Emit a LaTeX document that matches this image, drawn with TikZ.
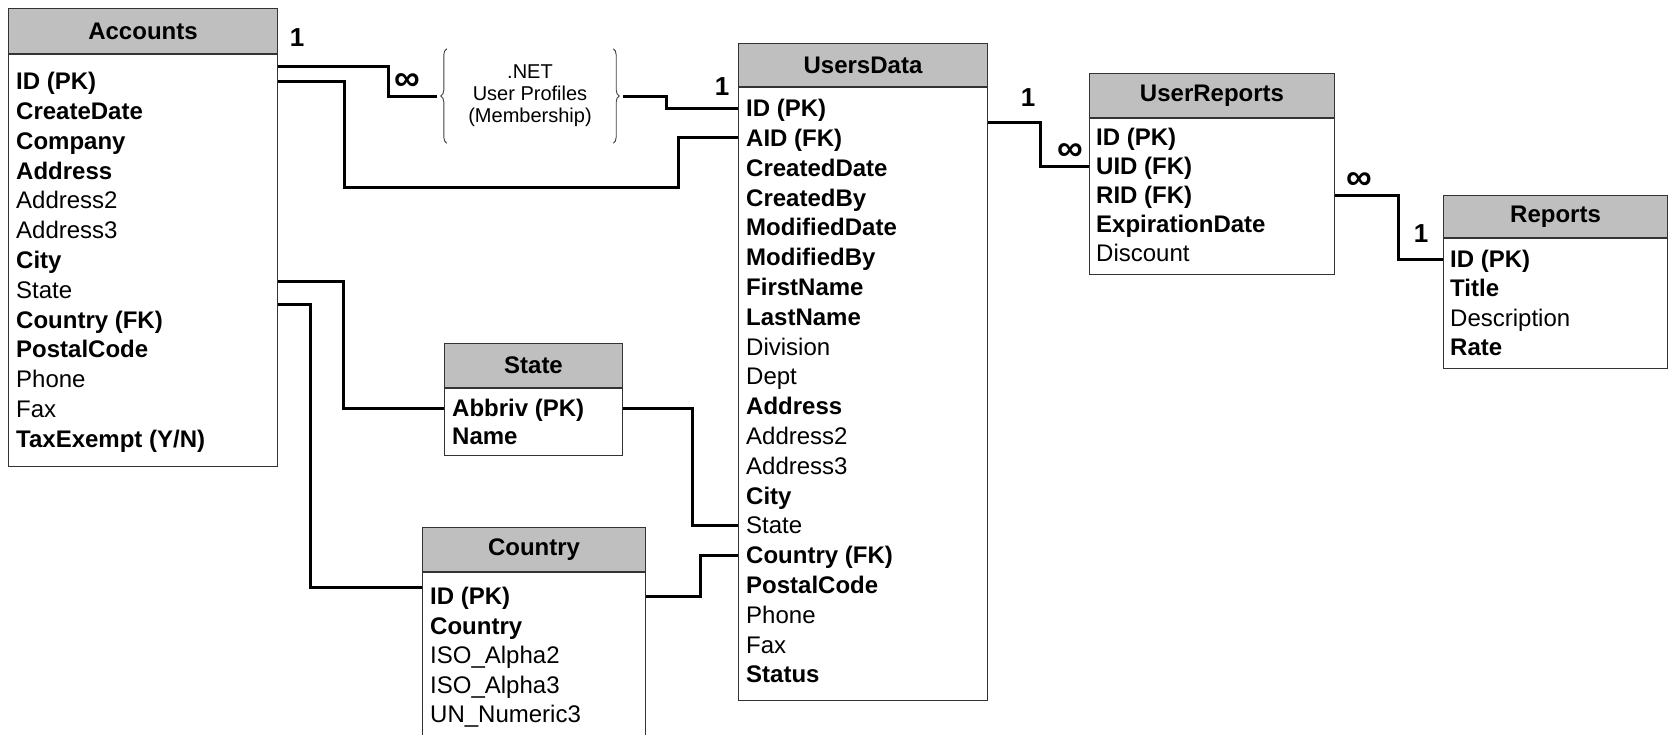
\documentclass[tikz,border=0pt]{standalone}
\usepackage{fontspec}
\setmainfont{Liberation Sans}
\usetikzlibrary{positioning,calc,decorations.pathreplacing}

\begin{document}
\begin{tikzpicture}[
    x=1pt, y=-1pt,
    tblhead/.style={rectangle, draw=black!80, line width=1pt, fill=black!25, anchor=north west, inner sep=0pt, font=\fontsize{24}{28}\selectfont\bfseries},
    tblbody/.style={rectangle, draw=black!80, line width=1pt, fill=white, inner sep=0pt},
    field/.style={anchor=west, inner sep=0pt, text height=23.2pt, text depth=6pt, font=\fontsize{24}{28}\selectfont\bfseries},
    card/.style={inner sep=0pt, font=\fontsize{26}{28}\selectfont\bfseries},
    many/.style={inner sep=0pt, font=\fontsize{36}{36}\selectfont\bfseries},
    link/.style={line width=3pt},
    brace/.style={decorate, decoration={brace, amplitude=6pt}, line width=0.9pt, black!75}
]
    \useasboundingbox (0,0) rectangle (1670,734);

    \node[tblhead, minimum width=269, minimum height=45] (acc-h) at (8,8) {Accounts};
    \node[tblbody, minimum width=269, minimum height=412, below=0pt of acc-h] (acc) {};
    \foreach \f [count=\i] in {ID (PK), CreateDate, Company, Address, {\mdseries Address2}, {\mdseries Address3}, City, {\mdseries State}, Country (FK), PostalCode, {\mdseries Phone}, {\mdseries Fax}, {TaxExempt (Y/N)}}
        \node[field] (acc-\i) at (16, {81+(\i-1)*29.8}) {\f};

    \node[tblhead, minimum width=249, minimum height=43] (ud-h) at (738,43) {UsersData};
    \node[tblbody, minimum width=249, minimum height=613, below=0pt of ud-h] (ud) {};
    \foreach \f [count=\i] in {ID (PK), AID (FK), CreatedDate, CreatedBy, ModifiedDate, ModifiedBy, FirstName, LastName, {\mdseries Division}, {\mdseries Dept}, Address, {\mdseries Address2}, {\mdseries Address3}, City, {\mdseries State}, Country (FK), PostalCode, {\mdseries Phone}, {\mdseries Fax}, Status}
        \node[field] (ud-\i) at (746, {108+(\i-1)*29.8}) {\f};

    \node[tblhead, minimum width=245, minimum height=44] (ur-h) at (1089,73) {UserReports};
    \node[tblbody, minimum width=245, minimum height=156, below=0pt of ur-h] (ur) {};
    \foreach \f [count=\i] in {ID (PK), UID (FK), RID (FK), ExpirationDate, {\mdseries Discount}}
        \node[field] (ur-\i) at (1096, {137+(\i-1)*29}) {\f};

    \node[tblhead, minimum width=224, minimum height=42] (rep-h) at (1443,195) {Reports};
    \node[tblbody, minimum width=224, minimum height=130, below=0pt of rep-h] (rep) {};
    \foreach \f [count=\i] in {ID (PK), Title, {\mdseries Description}, Rate}
        \node[field] (rep-\i) at (1450, {259+(\i-1)*29.3}) {\f};

    \node[tblhead, minimum width=178, minimum height=44] (st-h) at (444,343) {State};
    \node[tblbody, minimum width=178, minimum height=67, below=0pt of st-h] (st) {};
    \foreach \f [count=\i] in {Abbriv (PK), Name}
        \node[field] (st-\i) at (452, {408+(\i-1)*28}) {\f};

    \node[tblhead, minimum width=223, minimum height=44] (cty-h) at (422,527) {Country};
    \node[tblbody, minimum width=223, minimum height=210, below=0pt of cty-h] (cty) {};
    \foreach \f [count=\i] in {ID (PK), Country, {\mdseries ISO\_Alpha2}, {\mdseries ISO\_Alpha3}, {\mdseries UN\_Numeric3}}
        \node[field] (cty-\i) at (430, {596+(\i-1)*29.5}) {\f};

    \node[inner sep=0pt, minimum width=166, minimum height=94, align=center, font=\fontsize{20}{22}\selectfont] (net) at (530,96) {.NET\\User Profiles\\(Membership)};
    \draw[brace] (net.south west) -- (net.north west);
    \draw[brace] (net.north east) -- (net.south east);
    \coordinate (netL) at ([xshift=-10pt]net.west);
    \coordinate (netR) at ([xshift=10pt]net.east);

    \draw[link] (acc-1.north -| acc.east) -| ($(netL)+(-48,0)$) -- (netL);
    \draw[link] (netR) -| ($(ud-1 -| ud.west)+(-72,0)$) -- (ud-1 -| ud.west);
    \draw[link] (acc-1 -| acc.east) -- ++(66,0) -- ++(0,106) -| ($(ud-2 -| ud.west)+(-60,0)$) -- (ud-2 -| ud.west);
    \draw[link] ($(acc-8 -| acc.east)+(0,-8)$) -| ($(st-1 -| st.west)+(-101,0)$) -- (st-1 -| st.west);
    \draw[link] (acc-8.south -| acc.east) -| ($(cty-1 -| cty.west)+(-112,-9)$) -- ($(cty-1 -| cty.west)+(0,-9)$);
    \draw[link] (st-1 -| st.east) -| ($(ud-15 -| ud.west)+(-46,0)$) -- (ud-15 -| ud.west);
    \draw[link] (cty-1 -| cty.east) -| ($(ud-16 -| ud.west)+(-38,0)$) -- (ud-16 -| ud.west);
    \draw[link] (ud-1.south -| ud.east) -| ($(ur-2 -| ur.west)+(-49,0)$) -- (ur-2 -| ur.west);
    \draw[link] (ur-3 -| ur.east) -| ($(rep-1 -| rep.west)+(-45,0)$) -- (rep-1 -| rep.west);

    \node[card] (one-acc) at (297,38) {1};
    \node[many] (many-net) at (407,82) {∞};
    \node[card] (one-ud) at (722,87) {1};
    \node[card] (one-ud2) at (1028,98) {1};
    \node[many] (many-ur) at (1070,152) {∞};
    \node[many] (many-ur2) at (1359,181) {∞};
    \node[card] (one-rep) at (1421,234) {1};
\end{tikzpicture}
\end{document}
